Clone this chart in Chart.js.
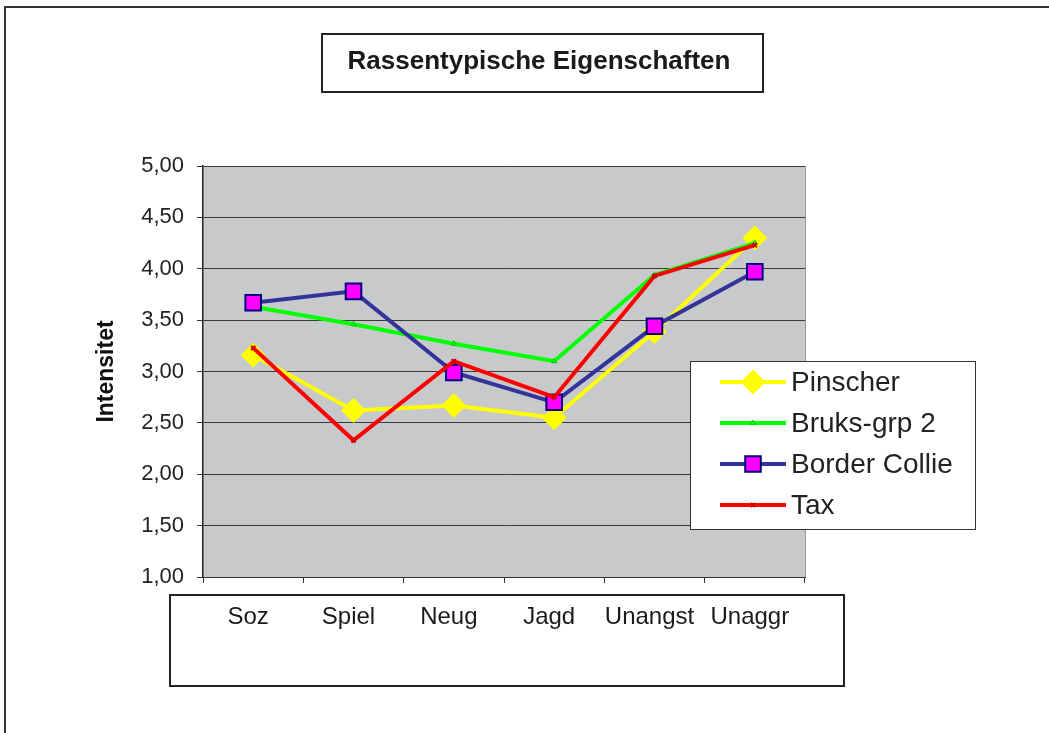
<!DOCTYPE html>
<html>
<head>
<meta charset="utf-8">
<script src="https://cdn.jsdelivr.net/npm/chart.js@4/dist/chart.umd.min.js"></script>
<style>
  html, body { margin: 0; padding: 0; background: #ffffff; }
  #wrap { width: 1049px; height: 733px; position: relative; }
</style>
</head>
<body>
<div id="wrap"><canvas id="c" width="1049" height="733"></canvas></div>
<script>
const categories = ["Soz", "Spiel", "Neug", "Jagd", "Unangst", "Unaggr"];
const seriesNames = ["Pinscher", "Bruks-grp 2", "Border Collie", "Tax"];
const pinscher     = [3.16, 2.62, 2.67, 2.55, 3.39, 4.30];
const bruks        = [3.63, 3.46, 3.27, 3.10, 3.94, 4.25];
const borderCollie = [3.67, 3.78, 2.99, 2.70, 3.44, 3.97];
const tax          = [3.23, 2.33, 3.10, 2.75, 3.93, 4.23];
const yTicks = [1.0, 1.5, 2.0, 2.5, 3.0, 3.5, 4.0, 4.5, 5.0];
const chartTitle = "Rassentypische Eigenschaften";
const yTitle = "Intensitet";

const FONT = "'Liberation Sans', Arial, sans-serif";

const decor = {
  id: 'decor',
  beforeDraw(chart) {
    const ctx = chart.ctx;
    const a = chart.chartArea;
    ctx.save();
    // outer frame
    ctx.strokeStyle = '#333333';
    ctx.lineWidth = 2;
    ctx.beginPath();
    ctx.moveTo(5, 740); ctx.lineTo(5, 7); ctx.lineTo(1060, 7);
    ctx.stroke();
    // plot background
    ctx.fillStyle = '#c8c9cb';
    ctx.fillRect(a.left, a.top, a.right - a.left, a.bottom - a.top);
    ctx.strokeStyle = '#9a9a9a';
    ctx.lineWidth = 1;
    ctx.beginPath();
    ctx.moveTo(a.right + 0.5, a.top); ctx.lineTo(a.right + 0.5, a.bottom);
    ctx.stroke();
    // title box
    ctx.strokeStyle = '#222222';
    ctx.lineWidth = 2;
    ctx.strokeRect(322, 34, 441, 58);
    ctx.fillStyle = '#1a1a1a';
    ctx.font = "bold 26px " + FONT;
    ctx.textAlign = 'center';
    ctx.textBaseline = 'middle';
    ctx.fillText(chartTitle, 539, 62);
    // x label box
    ctx.strokeStyle = '#222222';
    ctx.lineWidth = 2;
    ctx.strokeRect(170, 595, 674, 91);
    ctx.restore();
  },
  afterDraw(chart) {
    const ctx = chart.ctx;
    ctx.save();
    // legend box
    ctx.fillStyle = '#ffffff';
    ctx.fillRect(690, 361, 286, 169);
    ctx.strokeStyle = '#333333';
    ctx.lineWidth = 1;
    ctx.strokeRect(690.5, 361.5, 285, 168);
    const rows = [382, 423, 464, 505];
    chart.data.datasets.forEach((ds, i) => {
      const y = rows[i];
      ctx.strokeStyle = ds.borderColor;
      ctx.lineWidth = ds.borderWidth;
      ctx.beginPath();
      ctx.moveTo(720, y); ctx.lineTo(786, y);
      ctx.stroke();
      ctx.fillStyle = ds.pointBackgroundColor;
      ctx.strokeStyle = ds.pointBorderColor;
      ctx.lineWidth = ds.pointBorderWidth;
      Chart.helpers.drawPoint(ctx, {
        pointStyle: ds.pointStyle,
        radius: ds.pointRadius,
        borderWidth: ds.pointBorderWidth,
        rotation: 0
      }, 753, y);
      ctx.fillStyle = '#222222';
      ctx.font = "28px " + FONT;
      ctx.textAlign = 'left';
      ctx.textBaseline = 'middle';
      ctx.fillText(ds.label, 791, y + 1);
    });
    ctx.restore();
  }
};

const mk = (label, data, color, style, radius, bg, border, bw, order) => ({
  label, data,
  borderColor: color,
  backgroundColor: color,
  borderWidth: 4,
  pointStyle: style,
  pointRadius: radius,
  pointHoverRadius: radius,
  pointBackgroundColor: bg,
  pointBorderColor: border,
  pointBorderWidth: bw,
  tension: 0,
  order
});

new Chart(document.getElementById('c'), {
  type: 'line',
  data: {
    labels: categories,
    datasets: [
      mk(seriesNames[0], pinscher, '#ffff00', 'rectRot', 12, '#ffff00', '#ffff00', 1, 4),
      mk(seriesNames[1], bruks, '#00ff00', 'triangle', 3, '#00ff00', '#00cc00', 1, 3),
      mk(seriesNames[2], borderCollie, '#333399', 'rect', 11, '#ff00ff', '#000080', 2, 2),
      mk(seriesNames[3], tax, '#ff0000', 'crossRot', 3, '#ff0000', '#cc0000', 2, 1)
    ]
  },
  options: {
    responsive: false,
    animation: false,
    layout: { padding: { left: 89, top: 166, right: 244, bottom: 0 } },
    plugins: {
      legend: { display: false },
      title: { display: false },
      tooltip: { enabled: false }
    },
    scales: {
      x: {
        offset: true,
        grid: { drawOnChartArea: false, offset: true, tickLength: 6, color: '#333333' },
        border: { color: '#333333', width: 1 },
        ticks: { color: '#1a1a1a', font: { family: FONT, size: 24 }, padding: 20, maxRotation: 0, labelOffset: -5 },
        afterFit(s) { s.height = 156; }
      },
      y: {
        min: 1, max: 5,
        afterBuildTicks(s) { s.ticks = yTicks.map(v => ({ value: v })); },
        grid: { color: '#3a3a3a', tickLength: 6, lineWidth: 1 },
        border: { color: '#222222', width: 1.5 },
        ticks: {
          color: '#222222',
          font: { family: FONT, size: 22 },
          padding: 13,
          callback: v => v.toFixed(2).replace('.', ',')
        },
        title: {
          display: true, text: yTitle, color: '#111111',
          font: { family: FONT, size: 23, weight: 'bold' },
          padding: { top: 4, bottom: 0 }
        },
        afterFit(s) { s.width = 114; }
      }
    }
  },
  plugins: [decor]
});
</script>
</body>
</html>
